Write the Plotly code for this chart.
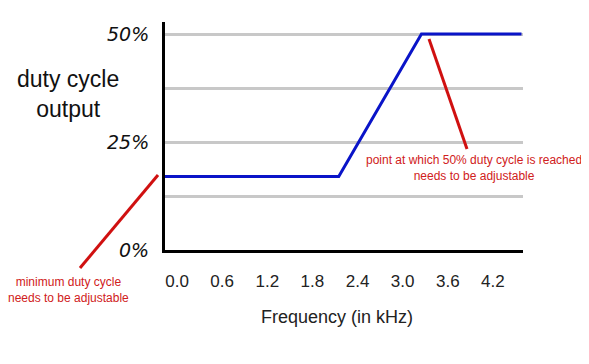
import plotly.graph_objects as go

# ---- data ----
freq_khz = [-0.16, 2.15, 3.25, 4.58]
duty_pct = [17, 17, 50, 50]
x_tick_vals = [0.0, 0.6, 1.2, 1.8, 2.4, 3.0, 3.6, 4.2]
x_tick_text = ["0.0", "0.6", "1.2", "1.8", "2.4", "3.0", "3.6", "4.2"]
y_tick_vals = [0, 12.5, 25, 37.5, 50]
y_tick_text = ["0%", "", "25%", "", "50%"]

OFF = 8  # default body margin of the page
W, H = 589 - 2 * OFF, 364 - 2 * OFF
L, R, T, B = 165, 523, 22, 250  # plot area in screen pixels


def px(x):
    return (x - L) / (R - L)


def py(y):
    return (B - y) / (B - T)


fig = go.Figure()
fig.add_trace(go.Scatter(x=freq_khz, y=duty_pct, mode="lines",
                         line=dict(color="#0a14c8", width=3),
                         hoverinfo="skip", showlegend=False))

fig.update_layout(
    width=W, height=H,
    margin=dict(l=L - OFF, r=W - (R - OFF), t=T - OFF, b=H - (B - OFF)),
    paper_bgcolor="white", plot_bgcolor="white",
    showlegend=False,
    xaxis=dict(range=[-0.16, 4.6], tickvals=x_tick_vals, ticktext=x_tick_text,
               showgrid=False, zeroline=False, showline=True,
               linecolor="black", linewidth=3, ticks="",
               ticklabelstandoff=14,
               tickfont=dict(family="Liberation Sans, Arial", size=17, color="#222")),
    yaxis=dict(range=[0, 52.8], tickvals=y_tick_vals, ticktext=y_tick_text,
               showgrid=True, gridcolor="#c8c8c8", gridwidth=3,
               zeroline=False, showline=True, linecolor="black", linewidth=3,
               ticks="", ticklabelstandoff=9,
               tickfont=dict(family="DejaVu Sans", size=19, color="#111", style="italic")),
)

def note(text, x, y, size, color, family="Liberation Sans, Arial"):
    fig.add_annotation(text=text, xref="paper", yref="paper",
                       x=px(x), y=py(y), xanchor="center", yanchor="middle",
                       showarrow=False, align="center",
                       font=dict(family=family, size=size, color=color))

# axis titles
note("Frequency (in kHz)", 337, 317, 18, "#222")
note("duty cycle<br>output", 68, 94, 23, "#111")

# red callouts
red = "#d01010"
fig.add_shape(type="line", xref="paper", yref="paper",
              x0=px(158), y0=py(175), x1=px(80), y1=py(268),
              line=dict(color=red, width=3))
fig.add_shape(type="line", xref="paper", yref="paper",
              x0=px(429), y0=py(39), x1=px(467), y1=py(149),
              line=dict(color=red, width=3))
note("minimum duty cycle<br>needs to be adjustable", 68, 290, 12, "#d02020")
note("point at which 50% duty cycle is reached<br>needs to be adjustable", 474, 168, 12, "#d02020")

fig.write_html("out.html")
